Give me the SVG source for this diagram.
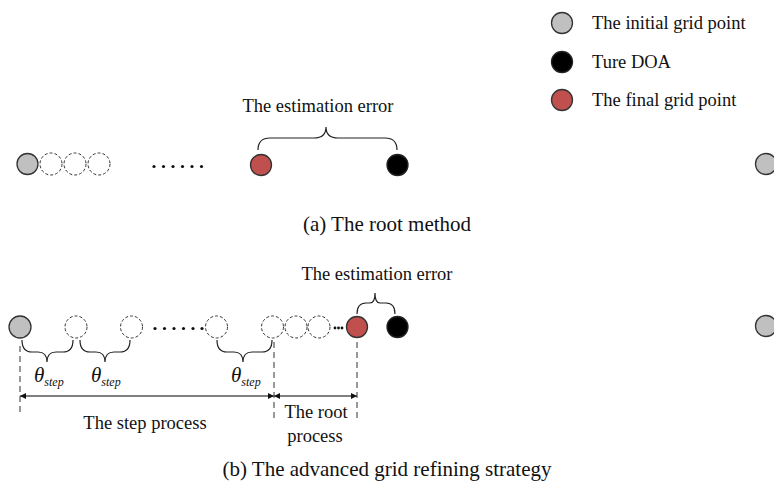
<svg xmlns="http://www.w3.org/2000/svg" width="774" height="485" viewBox="0 0 774 485">
<style>
text{font-family:"Liberation Serif","Times New Roman",serif;fill:#111;}
.t{font-size:18.5px;}
.cap{font-size:21px;}
.th{font-size:21px;font-style:italic;}
.g{fill:#c0c0c0;stroke:#333;stroke-width:1.3;}
.b{fill:#000;stroke:#222;stroke-width:1.3;}
.r{fill:#c0504d;stroke:#333;stroke-width:1.3;}
.d{fill:#fff;stroke:#333;stroke-width:1;stroke-dasharray:3,2;}
.br{fill:none;stroke:#222;stroke-width:1.2;}
.vl{stroke:#333;stroke-width:1;stroke-dasharray:6,4;}
.ar{stroke:#555;stroke-width:1.5;}
.dot{fill:#111;}
</style>
<defs>
<marker id="ah" viewBox="0 0 10 10" refX="10" refY="5" markerWidth="6" markerHeight="6" orient="auto-start-reverse" markerUnits="userSpaceOnUse">
<path d="M0,0 L10,5 L0,10 z" fill="#111"/>
</marker>
</defs>
<g id="legend">
<circle class="g" cx="562" cy="23" r="10.5"/>
<text class="t" x="592" y="29">The initial grid point</text>
<circle class="b" cx="562" cy="62" r="10.5"/>
<text class="t" x="592" y="68">Ture DOA</text>
<circle class="r" cx="562" cy="100" r="10.5"/>
<text class="t" x="592" y="106">The final grid point</text>
</g>
<g id="row-a">
<circle class="g" cx="27.5" cy="164" r="10.5"/>
<circle class="d" cx="51" cy="164" r="11"/>
<circle class="d" cx="75" cy="164" r="11"/>
<circle class="d" cx="99" cy="164" r="11"/>
<g class="dot">
<circle cx="154" cy="166.5" r="1.6"/><circle cx="163.5" cy="166.5" r="1.6"/><circle cx="173" cy="166.5" r="1.6"/><circle cx="182.5" cy="166.5" r="1.6"/><circle cx="192" cy="166.5" r="1.6"/><circle cx="201.5" cy="166.5" r="1.6"/>
</g>
<circle class="r" cx="261" cy="165" r="10.5"/>
<circle class="b" cx="397.5" cy="165" r="10.5"/>
<circle class="g" cx="766" cy="164" r="10.5"/>
<text class="t" x="318" y="112" text-anchor="middle">The estimation error</text>
<text class="cap" x="387" y="231" text-anchor="middle">(a) The root method</text>
</g>
<g id="row-b">
<circle class="g" cx="20" cy="327" r="11"/>
<circle class="d" cx="76" cy="327" r="11"/>
<circle class="d" cx="131.5" cy="327" r="11"/>
<g class="dot">
<circle cx="155" cy="328.5" r="1.6"/><circle cx="164.5" cy="328.5" r="1.6"/><circle cx="174" cy="328.5" r="1.6"/><circle cx="183.5" cy="328.5" r="1.6"/><circle cx="193" cy="328.5" r="1.6"/><circle cx="202" cy="328.5" r="1.6"/>
</g>
<circle class="d" cx="216.5" cy="327" r="11"/>
<circle class="d" cx="272.5" cy="327" r="11"/>
<circle class="d" cx="296" cy="327" r="11"/>
<circle class="d" cx="319" cy="327" r="11"/>
<g class="dot">
<circle cx="335" cy="328" r="1.4"/><circle cx="338.5" cy="328" r="1.4"/><circle cx="342" cy="328" r="1.4"/>
</g>
<circle class="r" cx="357" cy="327" r="10.5"/>
<circle class="b" cx="397.5" cy="327" r="10.5"/>
<circle class="g" cx="766" cy="326" r="10.5"/>
<text class="t" x="377" y="280" text-anchor="middle">The estimation error</text>
<text class="th" x="34" y="382">θ<tspan font-size="12" dy="4">step</tspan></text>
<text class="th" x="91" y="382">θ<tspan font-size="12" dy="4">step</tspan></text>
<text class="th" x="231" y="382">θ<tspan font-size="12" dy="4">step</tspan></text>
<text class="t" x="145" y="429" text-anchor="middle">The step process</text>
<text class="t" x="316" y="418" text-anchor="middle">The root</text>
<text class="t" x="315" y="442" text-anchor="middle">process</text>
<text class="cap" x="387" y="476" text-anchor="middle">(b) The advanced grid refining strategy</text>
</g>
<g id="connectors">
<path class="br" d="M258,150 Q258,138 270,138 L314,138 Q326,138 326,127 Q326,138 338,138 L385,138 Q397,138 397,150"/>
<path class="br" d="M357,314 Q357,303 366,303 L370,303 Q375,303 375,293 Q375,303 380,303 L386,303 Q395,303 395,314"/>
<path class="br" d="M22,340 Q22,352 32,352 L38,352 Q47,352 47,362 Q47,352 56,352 L63,352 Q73,352 73,340"/>
<path class="br" d="M80,340 Q80,352 90,352 L96,352 Q105,352 105,362 Q105,352 114,352 L120,352 Q130,352 130,340"/>
<path class="br" d="M217,340 Q217,352 227,352 L234,352 Q243,352 243,362 Q243,352 252,352 L262,352 Q272,352 272,340"/>
<line class="vl" x1="20" y1="346" x2="20" y2="414"/>
<line class="vl" x1="274" y1="342" x2="274" y2="418"/>
<line class="vl" x1="357" y1="342" x2="357" y2="418"/>
<line class="ar" x1="20" y1="396" x2="274" y2="396" marker-start="url(#ah)" marker-end="url(#ah)"/>
<line class="ar" x1="274" y1="396" x2="357" y2="396" marker-start="url(#ah)" marker-end="url(#ah)"/>
</g>
</svg>
